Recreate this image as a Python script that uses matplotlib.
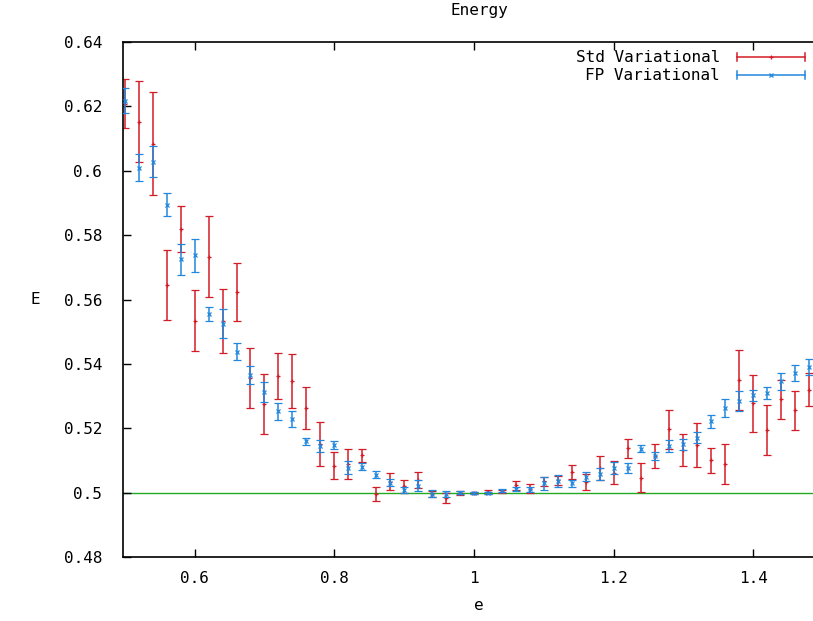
import numpy as np
import matplotlib
matplotlib.use("Agg")
import matplotlib.pyplot as plt
from matplotlib.ticker import FuncFormatter
from matplotlib.lines import Line2D

# eccentricity grid
e_vals = np.round(np.arange(0.50, 1.481, 0.02), 2)

# standard variational energies and errors
std_E = [0.6208, 0.6153, 0.6084, 0.5645, 0.5819, 0.5534, 0.5733, 0.5533, 0.5622, 0.5356,
         0.5275, 0.5363, 0.5347, 0.5263, 0.5151, 0.5083, 0.5088, 0.5116, 0.4997, 0.5034,
         0.5020, 0.5039, 0.4995, 0.4984, 0.4999, 0.5000, 0.5002, 0.5004, 0.5023, 0.5012,
         0.5035, 0.5038, 0.5065, 0.5033, 0.5077, 0.5062, 0.5138, 0.5046, 0.5114, 0.5197,
         0.5133, 0.5148, 0.5100, 0.5088, 0.5350, 0.5277, 0.5194, 0.5290, 0.5256, 0.5320]
std_err = [0.0076, 0.0125, 0.0160, 0.0108, 0.0070, 0.0094, 0.0126, 0.0099, 0.0090, 0.0093,
           0.0092, 0.0072, 0.0083, 0.0065, 0.0068, 0.0042, 0.0047, 0.0021, 0.0022, 0.0027,
           0.0020, 0.0026, 0.0010, 0.0015, 0.0005, 0.0003, 0.0005, 0.0005, 0.0014, 0.0014,
           0.0015, 0.0015, 0.0022, 0.0025, 0.0038, 0.0036, 0.0030, 0.0045, 0.0036, 0.0061,
           0.0049, 0.0068, 0.0040, 0.0062, 0.0092, 0.0089, 0.0078, 0.0061, 0.0061, 0.0052]

# FP variational energies and errors
fp_E = [0.6218, 0.6009, 0.6028, 0.5895, 0.5725, 0.5737, 0.5556, 0.5525, 0.5438, 0.5366,
        0.5313, 0.5253, 0.5228, 0.5159, 0.5144, 0.5147, 0.5078, 0.5081, 0.5056, 0.5031,
        0.5008, 0.5022, 0.4997, 0.4995, 0.5000, 0.5000, 0.4999, 0.5006, 0.5012, 0.5010,
        0.5029, 0.5036, 0.5029, 0.5049, 0.5058, 0.5077, 0.5076, 0.5137, 0.5114, 0.5145,
        0.5150, 0.5171, 0.5221, 0.5262, 0.5284, 0.5302, 0.5310, 0.5346, 0.5371, 0.5390]
fp_err = [0.0039, 0.0042, 0.0048, 0.0036, 0.0048, 0.0052, 0.0022, 0.0045, 0.0026, 0.0028,
          0.0031, 0.0027, 0.0025, 0.0012, 0.0019, 0.0012, 0.0020, 0.0010, 0.0012, 0.0010,
          0.0008, 0.0016, 0.0010, 0.0010, 0.0005, 0.0003, 0.0004, 0.0005, 0.0007, 0.0007,
          0.0020, 0.0019, 0.0011, 0.0014, 0.0018, 0.0019, 0.0016, 0.0010, 0.0013, 0.0019,
          0.0017, 0.0017, 0.0019, 0.0028, 0.0031, 0.0018, 0.0018, 0.0026, 0.0025, 0.0024]

exact_E = 0.5

red = "#d41c26"
blue = "#2288dd"
green = "#22aa22"

plt.rcParams["font.family"] = "DejaVu Sans Mono"
plt.rcParams["font.size"] = 11.5

fig = plt.figure(figsize=(8.13, 6.21), dpi=100)
ax = fig.add_axes([123 / 813, 1 - 557 / 621, 700 / 813, 515 / 621])

ax.axhline(exact_E, color=green, lw=1.0, zorder=1)
ax.errorbar(e_vals, std_E, yerr=std_err, fmt="+", color=red, ms=3, mew=0.9,
            elinewidth=1.1, capsize=3, capthick=1.1, zorder=2)
ax.errorbar(e_vals, fp_E, yerr=fp_err, fmt="x", color=blue, ms=2.5, mew=0.9,
            elinewidth=1.1, capsize=3, capthick=1.1, zorder=3)

ax.set_xlim(0.4974, 1.5)
ax.set_ylim(0.48, 0.64)
ax.set_xticks([0.6, 0.8, 1.0, 1.2, 1.4])
ax.set_yticks(np.arange(0.48, 0.6401, 0.02))
fmt = FuncFormatter(lambda v, p: "%g" % round(v, 3))
ax.xaxis.set_major_formatter(fmt)
ax.yaxis.set_major_formatter(fmt)
ax.tick_params(direction="in", length=6, width=1, top=True, right=True)
ax.tick_params(axis="y", pad=15)
ax.tick_params(axis="x", pad=10)
for s in ax.spines.values():
    s.set_linewidth(1.2)

fig.text(479 / 813, 1 - 10 / 621, "Energy", ha="center", va="center")
fig.text(479 / 813, 1 - 605 / 621, "e", ha="center", va="center")
fig.text(35 / 813, 1 - 300 / 621, "E", ha="center", va="center")

# key in the upper right corner
for i, (label, col) in enumerate([("Std Variational", red), ("FP Variational", blue)]):
    yk = 1 - (57 + 18 * i) / 621
    fig.text(720 / 813, yk, label, ha="right", va="center")
    x0, x1 = 737 / 813, 805 / 813
    fig.add_artist(Line2D([x0, x1], [yk, yk], color=col, lw=1.1))
    for xc in (x0, x1):
        fig.add_artist(Line2D([xc, xc], [yk - 4 / 621, yk + 4 / 621], color=col, lw=1.1))
    fig.add_artist(Line2D([(x0 + x1) / 2], [yk], color=col, marker="+" if i == 0 else "x",
                          ms=3, mew=0.9))

fig.savefig("out.png", dpi=100)
